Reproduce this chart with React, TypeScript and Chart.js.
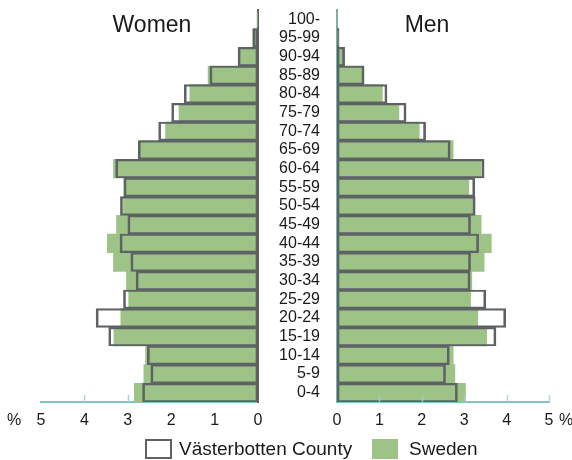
import React, { useEffect, useRef } from 'react';
import { Chart, registerables } from 'chart.js';

Chart.register(...registerables);

const ageGroups = ['100-', '95-99', '90-94', '85-89', '80-84', '75-79', '70-74', '65-69', '60-64', '55-59', '50-54', '45-49', '40-44', '35-39', '30-34', '25-29', '20-24', '15-19', '10-14', '5-9', '0-4'];

const womenVasterbotten = [0.02, 0.12, 0.46, 1.11, 1.70, 1.99, 2.29, 2.76, 3.28, 3.09, 3.17, 3.00, 3.18, 2.93, 2.81, 3.10, 3.73, 3.44, 2.55, 2.47, 2.66];
const womenSweden = [0.02, 0.12, 0.44, 1.15, 1.57, 1.82, 2.13, 2.73, 3.33, 3.09, 3.10, 3.26, 3.47, 3.33, 3.03, 2.98, 3.16, 3.32, 2.59, 2.63, 2.85];
const menVasterbotten = [0.01, 0.05, 0.18, 0.64, 1.18, 1.63, 2.09, 2.67, 3.47, 3.25, 3.26, 3.15, 3.34, 3.15, 3.14, 3.51, 3.98, 3.75, 2.65, 2.56, 2.84];
const menSweden = [0.01, 0.04, 0.17, 0.63, 1.07, 1.46, 1.94, 2.74, 3.40, 3.11, 3.20, 3.40, 3.64, 3.47, 3.18, 3.15, 3.32, 3.53, 2.74, 2.78, 3.03];

const axisMin = 0;
const axisMax = 5;
const seriesNames = ['Västerbotten County', 'Sweden'];
const sideTitles = ['Women', 'Men'];

const FONT = '"Liberation Sans", Arial, Helvetica, sans-serif';
const GREEN = '#9dc387';
const OUTLINE = '#5e6265';
const TEAL = '#7ec7c3';
const TEXT = '#1a1a1a';

function drawInnerTicks(chart: any, opts: any) {
  const s = chart.scales.x;
  const ctx = chart.ctx;
  ctx.save();
  ctx.strokeStyle = opts.color;
  ctx.lineWidth = opts.width;
  s.ticks.forEach((t: any) => {
    if ((opts.skip || []).includes(t.value)) return;
    const x = Math.round(s.getPixelForValue(t.value)) + 0.5;
    ctx.beginPath();
    ctx.moveTo(x, s.top);
    ctx.lineTo(x, s.top - opts.length);
    ctx.stroke();
  });
  ctx.restore();
}

const innerTicks = {
  id: 'innerTicks',
  beforeDatasetsDraw(chart: any, _a: any, opts: any) {
    if (!opts.above) drawInnerTicks(chart, opts);
  },
  afterDatasetsDraw(chart: any, _a: any, opts: any) {
    if (opts.above) drawInnerTicks(chart, opts);
  },
};

function makeConfig(isLeft: boolean, vb: number[], sw: number[]): any {
  return {
    type: 'bar',
    data: {
      labels: ageGroups,
      datasets: [
        {
          label: seriesNames[0],
          data: vb,
          backgroundColor: 'rgba(255,255,255,0)',
          borderColor: OUTLINE,
          borderWidth: { top: 1.5, bottom: 1.5, left: 2, right: 2 },
          borderSkipped: false,
          grouped: false,
          barPercentage: 1,
          categoryPercentage: 1,
        },
        {
          label: seriesNames[1],
          data: sw,
          backgroundColor: GREEN,
          borderWidth: 0,
          grouped: false,
          barPercentage: 1,
          categoryPercentage: 1,
        },
      ],
    },
    options: {
      indexAxis: 'y',
      responsive: false,
      animation: false,
      layout: {
        padding: isLeft ? { left: 41, top: 10, right: 0, bottom: 0 } : { left: 0, top: 10, right: 23, bottom: 0 },
      },
      scales: {
        x: {
          type: 'linear',
          reverse: isLeft,
          min: axisMin,
          max: axisMax,
          ticks: { stepSize: 1, color: TEXT, font: { family: FONT, size: 16 }, padding: 9 },
          grid: { display: false, drawTicks: false },
          border: { display: true, color: TEAL, width: 2 },
          afterFit: (s: any) => {
            s.height = 28;
            s.paddingLeft = 0;
            s.paddingRight = 0;
          },
        },
        y: {
          type: 'category',
          position: isLeft ? 'right' : 'left',
          ticks: isLeft
            ? { display: false }
            : { display: true, color: TEXT, font: { family: FONT, size: 16 }, padding: 17, autoSkip: false },
          grid: { display: false, drawTicks: false },
          border: { display: true, color: isLeft ? OUTLINE : '#74b4b1', width: 2 },
          afterFit: (s: any) => {
            s.width = isLeft ? 4 : 75;
            s.paddingTop = 0;
            s.paddingBottom = 0;
          },
        },
      },
      plugins: {
        legend: { display: false },
        tooltip: { enabled: false },
        innerTicks: isLeft
          ? { color: '#a6d6d3', width: 1.5, length: 7, skip: [0, 5], above: false }
          : { color: 'rgba(150,210,206,0.8)', width: 1.5, length: 7, skip: [0], above: true },
      },
    },
    plugins: [innerTicks],
  };
}

export default function App() {
  const leftRef = useRef<HTMLCanvasElement | null>(null);
  const rightRef = useRef<HTMLCanvasElement | null>(null);

  useEffect(() => {
    const left = new Chart(leftRef.current as HTMLCanvasElement, makeConfig(true, womenVasterbotten, womenSweden));
    const right = new Chart(rightRef.current as HTMLCanvasElement, makeConfig(false, menVasterbotten, menSweden));
    return () => {
      left.destroy();
      right.destroy();
    };
  }, []);

  const abs = (s: React.CSSProperties): React.CSSProperties => ({ position: 'absolute', ...s });

  return (
    <div style={{ position: 'absolute', left: 0, top: 0, width: 572, height: 460, fontFamily: FONT, color: TEXT, background: '#fff', overflow: 'hidden' }}>
      <canvas ref={leftRef} width={262} height={430} style={abs({ left: 0, top: 0, width: 262, height: 430 })} />
      <canvas ref={rightRef} width={310} height={430} style={abs({ left: 262, top: 0, width: 310, height: 430 })} />
      <div style={abs({ left: 92, top: 10, width: 120, textAlign: 'center', fontSize: 23, lineHeight: '28px' })}>{sideTitles[0]}</div>
      <div style={abs({ left: 367, top: 10, width: 120, textAlign: 'center', fontSize: 23, lineHeight: '28px' })}>{sideTitles[1]}</div>
      <div style={abs({ left: 4, top: 410, width: 20, textAlign: 'center', fontSize: 16, lineHeight: '20px' })}>%</div>
      <div style={abs({ left: 556, top: 410, width: 20, textAlign: 'center', fontSize: 16, lineHeight: '20px' })}>%</div>
      <div style={abs({ left: 145, top: 439, width: 27, height: 20, boxSizing: 'border-box', border: `2.5px solid ${OUTLINE}`, background: '#fff' })} />
      <div style={abs({ left: 179, top: 437, fontSize: 19, lineHeight: '24px', whiteSpace: 'nowrap' })}>{seriesNames[0]}</div>
      <div style={abs({ left: 372, top: 439, width: 26, height: 20, background: GREEN })} />
      <div style={abs({ left: 409, top: 437, fontSize: 19, lineHeight: '24px', whiteSpace: 'nowrap' })}>{seriesNames[1]}</div>
    </div>
  );
}
